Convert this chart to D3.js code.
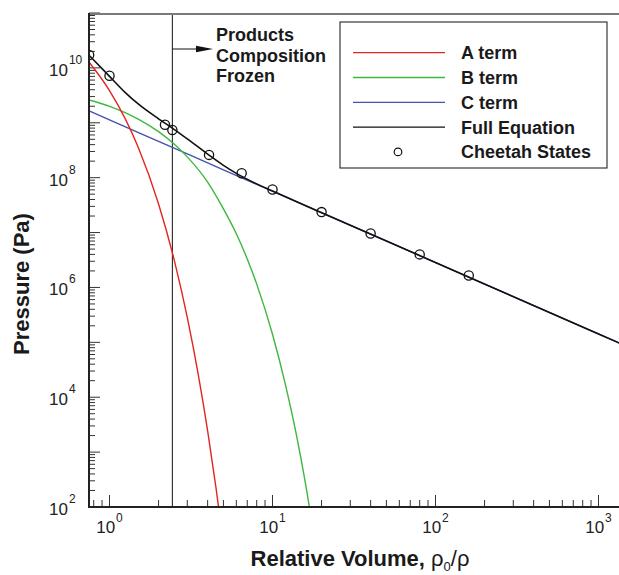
<!DOCTYPE html>
<html>
<head>
<meta charset="utf-8">
<script src="https://cdn.jsdelivr.net/npm/d3@7"></script>
<style>
  html, body { margin: 0; padding: 0; background: #fff; }
  svg { display: block; font-family: "Liberation Sans", Arial, Helvetica, sans-serif; }
</style>
</head>
<body>
<svg id="chart" width="619" height="575"></svg>
<script>
// ---------------- data ----------------
const xTickExps = [0, 1, 2, 3];
const yTickExps = [2, 4, 6, 8, 10];

// [relative volume, pressure (Pa)]
const aTerm = [[0.75,1.27e10],[1,3.87e9],[1.25,1.18e9],[1.5,3.59e8],[2,3.32e7],[2.5,3.08e6],
               [3,2.85e5],[3.5,2.64e4],[4,2.44e3],[4.5,226],[5,20.9]];
const bTerm = [[0.75,2.6e9],[1,1.99e9],[1.5,1.17e9],[2,6.9e8],[2.5,4.06e8],[3,2.39e8],[4,8.3e7],
               [5,2.7e7],[6,9.5e6],[7,3.3e6],[8,1.15e6],[10,1.4e5],[12,1.7e4],[14,2.1e3],[16,250],[18,30]];
const cTerm = [[0.75,1.65e9],[1,1.13e9],[2,4.6e8],[5,1.39e8],[10,5.67e7],[100,2.84e6],[1000,1.42e5],[1500,8.4e4]];
const fullEq = [[0.75,1.70e10],[1,6.99e9],[1.25,3.55e9],[1.5,2.2e9],[2,1.18e9],[2.5,7.53e8],[3,5.1e8],
                [4,2.69e8],[5,1.68e8],[6,1.2e8],[8,7.7e7],[10,5.7e7],[20,2.3e7],[50,7.0e6],[100,2.84e6],
                [1000,1.42e5],[1500,8.4e4]];
const cheetah = [[0.75,1.72e10],[1,7.2e9],[2.19,9.2e8],[2.43,7.4e8],[4.08,2.6e8],[6.47,1.2e8],
                 [10,6.1e7],[20,2.36e7],[40,9.6e6],[80,4.0e6],[160,1.65e6]];
const frozenV = 2.43;
const annotation = ["Products", "Composition", "Frozen"];

const seriesNames = ["A term", "B term", "C term", "Full Equation", "Cheetah States"];
const seriesColors = ["#e3251f", "#3cb83c", "#4452b0", "#111111", "#111111"];

// ---------------- layout ----------------
const svg = d3.select("#chart");
const plotL = 89, plotT = 13, plotB = 507, plotR = 640;

const x = d3.scaleLog().domain([1, 1000]).range([109.5, 598.5]);
const y = d3.scaleLog().domain([1e2, 1e11]).range([plotB, plotT]);

svg.append("defs").append("clipPath").attr("id", "clip")
  .append("rect").attr("x", plotL).attr("y", plotT).attr("width", plotR - plotL).attr("height", plotB - plotT);

// ---------------- ticks ----------------
const xMin = x.invert(plotL), xMax = x.invert(plotR);
const xTicks = [];
for (let e = -1; e <= 3; e++) for (let k = 1; k <= 9; k++) {
  const v = k * Math.pow(10, e);
  if (v >= xMin && v <= xMax) xTicks.push({ v, major: k === 1 });
}
const yTicks = [];
for (let e = 2; e <= 10; e++) for (let k = 1; k <= 9; k++) {
  yTicks.push({ v: k * Math.pow(10, e), major: k === 1 });
}
yTicks.push({ v: 1e11, major: true });

const tickG = svg.append("g").attr("stroke", "#333").attr("stroke-width", 1);
tickG.selectAll("line.xt").data(xTicks).join("line")
  .attr("x1", d => x(d.v)).attr("x2", d => x(d.v))
  .attr("y1", plotB).attr("y2", d => plotB - (d.major ? 12 : 7));
tickG.selectAll("line.yt").data(yTicks).join("line")
  .attr("y1", d => y(d.v)).attr("y2", d => y(d.v))
  .attr("x1", plotL).attr("x2", d => plotL + (d.major ? 11 : 6));

// ---------------- tick labels ----------------
const xl = svg.append("g").attr("fill", "#222");
xTickExps.forEach(e => {
  const t = xl.append("text").attr("x", x(Math.pow(10, e))).attr("y", 533)
    .attr("text-anchor", "middle").attr("font-size", 17);
  t.append("tspan").text("10");
  t.append("tspan").attr("dy", -11).attr("dx", 1).attr("font-size", 12).text(e);
});
const yl = svg.append("g").attr("fill", "#222");
yTickExps.forEach(e => {
  const yy = y(Math.pow(10, e));
  const t = yl.append("text").attr("x", 49).attr("y", yy + 8).attr("font-size", 17);
  t.append("tspan").text("10");
  t.append("tspan").attr("dy", -12).attr("dx", 1).attr("font-size", 12).text(e);
});

// ---------------- curves ----------------
const line = d3.line().x(d => x(d[0])).y(d => y(d[1])).curve(d3.curveMonotoneX);
const plot = svg.append("g").attr("clip-path", "url(#clip)");

// vertical "frozen" line
plot.append("line").attr("x1", x(frozenV)).attr("x2", x(frozenV))
  .attr("y1", plotT).attr("y2", plotB).attr("stroke", "#111").attr("stroke-width", 1);

[cTerm, bTerm, aTerm, fullEq].forEach((s, i) => {
  const idx = [2, 1, 0, 3][i];
  plot.append("path").datum(s).attr("d", line).attr("fill", "none")
    .attr("stroke", seriesColors[idx]).attr("stroke-width", idx === 3 ? 1.6 : 1.4);
});

plot.selectAll("circle.ch").data(cheetah).join("circle")
  .attr("cx", d => x(d[0])).attr("cy", d => y(d[1])).attr("r", 4.6)
  .attr("fill", "none").attr("stroke", "#111").attr("stroke-width", 1.3);

// ---------------- axes frame ----------------
svg.append("line").attr("x1", plotL).attr("x2", 619).attr("y1", 14).attr("y2", 14)
  .attr("stroke", "#7a7a7a").attr("stroke-width", 2);
svg.append("line").attr("x1", plotL).attr("x2", plotL).attr("y1", 13).attr("y2", plotB + 1)
  .attr("stroke", "#222").attr("stroke-width", 2);
svg.append("line").attr("x1", plotL - 1).attr("x2", 619).attr("y1", plotB).attr("y2", plotB)
  .attr("stroke", "#222").attr("stroke-width", 2);

// ---------------- annotation ----------------
const ay = 49, ax0 = x(frozenV), ax1 = 213;
svg.append("line").attr("x1", ax0).attr("x2", ax1 - 14).attr("y1", ay).attr("y2", ay)
  .attr("stroke", "#111").attr("stroke-width", 1);
svg.append("path").attr("d", `M${ax1},${ay} L${ax1 - 17},${ay - 3.2} L${ax1 - 17},${ay + 3.2} Z`).attr("fill", "#111");
svg.append("g").selectAll("text").data(annotation).join("text")
  .attr("x", 216).attr("y", (d, i) => 41 + i * 20.5)
  .attr("font-size", 18).attr("font-weight", "bold").attr("fill", "#1a1a1a").text(d => d);

// ---------------- legend ----------------
const lg = svg.append("g");
lg.append("rect").attr("x", 340).attr("y", 22).attr("width", 267).attr("height", 146)
  .attr("fill", "#fff").attr("stroke", "#111").attr("stroke-width", 1);
seriesNames.forEach((n, i) => {
  const cy = 52.7 + i * 24.8;
  if (i < 4) {
    lg.append("line").attr("x1", 353).attr("x2", 445).attr("y1", cy).attr("y2", cy)
      .attr("stroke", seriesColors[i]).attr("stroke-width", 1.3);
  } else {
    lg.append("circle").attr("cx", 398).attr("cy", cy).attr("r", 3.8)
      .attr("fill", "none").attr("stroke", "#111").attr("stroke-width", 1.2);
  }
  lg.append("text").attr("x", 461).attr("y", cy + 6.5).attr("font-size", 18)
    .attr("font-weight", "bold").attr("fill", "#1a1a1a").text(n);
});

// ---------------- axis titles ----------------
const xt = svg.append("text").attr("x", 360).attr("y", 566).attr("text-anchor", "middle")
  .attr("font-size", 22).attr("fill", "#1a1a1a");
xt.append("tspan").attr("font-weight", "bold").text("Relative Volume, ");
xt.append("tspan").text("ρ");
xt.append("tspan").attr("dy", 5).attr("font-size", 13).text("0");
xt.append("tspan").attr("dy", -5).text("/ρ");

svg.append("text").attr("transform", "translate(29,284) rotate(-90)")
  .attr("text-anchor", "middle").attr("font-size", 22).attr("font-weight", "bold")
  .attr("fill", "#1a1a1a").text("Pressure (Pa)");
</script>
</body>
</html>
